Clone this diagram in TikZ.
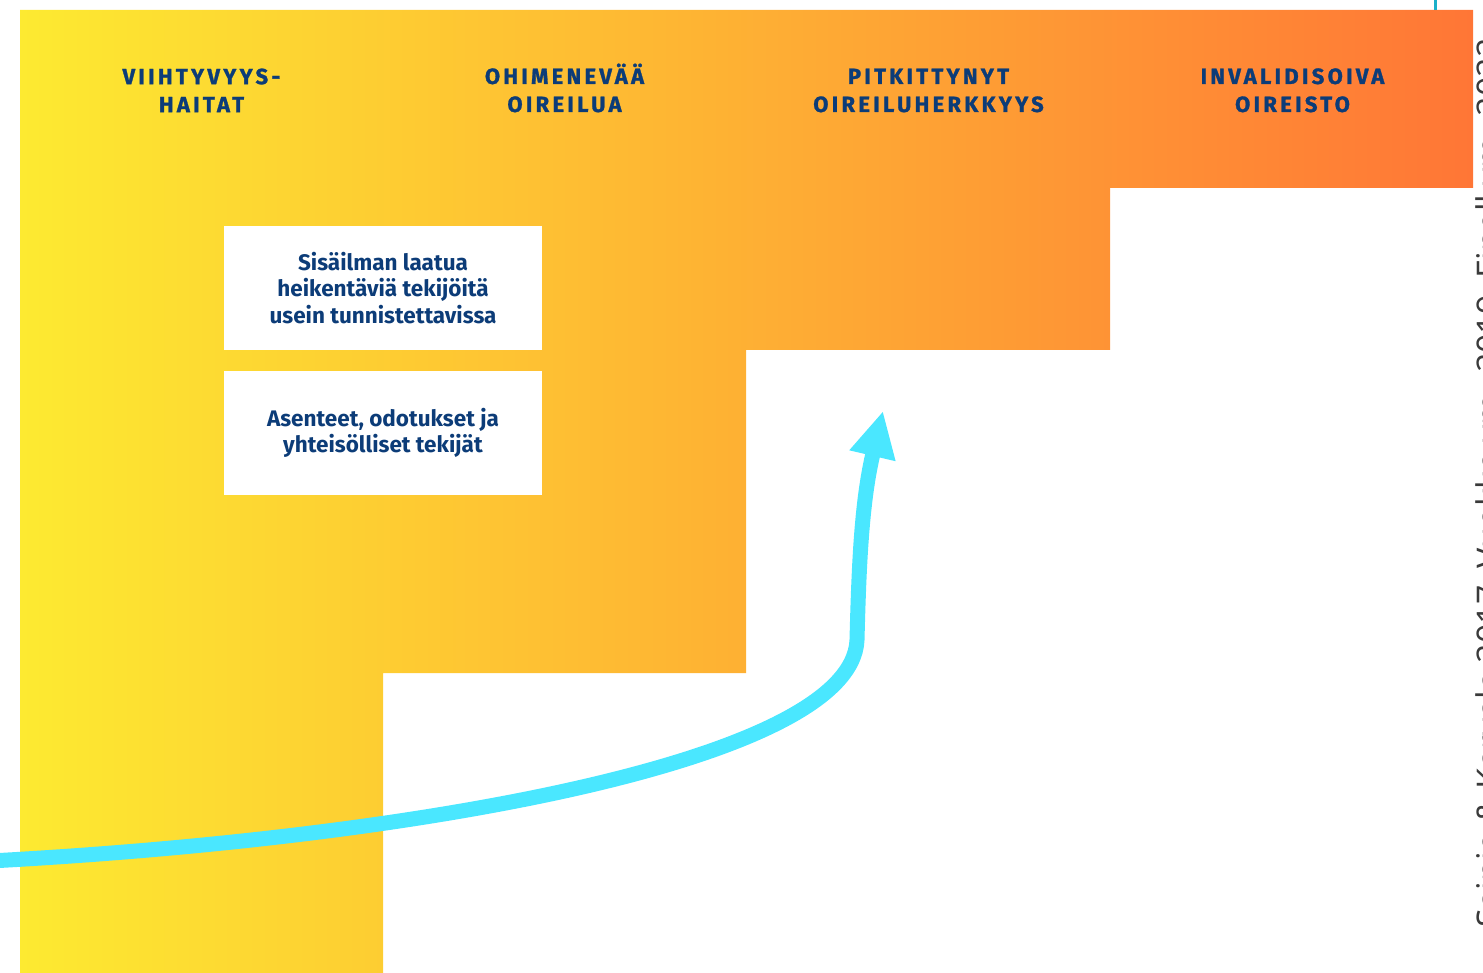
\documentclass[tikz,border=0pt]{standalone}
\usepackage{fontspec}
\setmainfont{Fira Sans}
\newfontfamily\headfont[LetterSpace=15, BoldFeatures={FakeBold=1.2}]{Fira Sans}
\newfontfamily\srcfont{Open Sans}
\usetikzlibrary{arrows.meta}
\definecolor{navy}{HTML}{0C3C78}
\definecolor{ylw}{HTML}{FDEA31}
\definecolor{mid}{HTML}{FFB833}
\definecolor{org}{HTML}{FF7636}
\definecolor{cyanarrow}{HTML}{4AE7FF}
\definecolor{tealline}{HTML}{1BB0C9}
\definecolor{srcgray}{HTML}{3A3A3A}
\tikzset{
  head/.style={font=\headfont\bfseries\fontsize{22}{28}\selectfont, text=navy, align=center},
  infobox/.style={fill=white, draw=none, minimum width=318pt, minimum height=124pt, inner sep=0pt,
    font=\bfseries\fontsize{22.5}{26.5}\selectfont, text=navy, align=center},
  flow/.style={draw=cyanarrow, line width=15pt, -{Triangle[length=46pt,width=44pt]}}
}
\begin{document}
\begin{tikzpicture}[x=1pt,y=-1pt]
\useasboundingbox (0,0) rectangle (1483,973);
\begin{scope}
\clip (0,0) rectangle (1483,973);
% staircase background
\shade[left color=ylw, middle color=mid, right color=org]
  (20,10) -- (1473,10) -- (1473,188) -- (1110,188) -- (1110,350) -- (746,350)
  -- (746,673) -- (383,673) -- (383,973) -- (20,973) -- cycle;
% teal line at top right
\coordinate (tl1) at (1435,0);
\coordinate (tl2) at (1435,10);
\draw[tealline, line width=3pt] (tl1) -- (tl2);
% headers
\node[head] (h1) at (201.5,88) {\vphantom{Ä}VIIHTYVYYS-\\HAITAT};
\node[head] (h2) at (564.5,88) {\vphantom{Ä}OHIMENEVÄÄ\\OIREILUA};
\node[head] (h3) at (928.5,88) {\vphantom{Ä}PITKITTYNYT\\OIREILUHERKKYYS};
\node[head] (h4) at (1292.5,88) {\vphantom{Ä}INVALIDISOIVA\\OIREISTO};
% boxes
\node[infobox] (b1) at (383,288) {\raisebox{2pt}{\parbox{300pt}{\centering Sisäilman laatua\\heikentäviä tekijöitä\\usein tunnistettavissa}}};
\node[infobox] (b2) at (383,433) {\raisebox{-1pt}{\parbox{300pt}{\centering Asenteet, odotukset ja\\yhteisölliset tekijät}}};
% arrow
\coordinate (s) at (-10,861);
\coordinate (bend) at (857,640);
\coordinate (tip) at (883,411);
\draw[flow] (s) .. controls (420,838) and (852,760) .. (bend)
  .. controls (859,560) and (862,500) .. (tip);
% source text, clipped at right edge
\node[rotate=90, anchor=base west, inner sep=0pt, text=srcgray,
  font=\srcfont\fontsize{34}{40}\selectfont] (src) at (1501,928)
  {Sainio \& Karvala 2017, Vuokko ym. 2019, Finell ym. 2022};
\end{scope}
\end{tikzpicture}
\end{document}
